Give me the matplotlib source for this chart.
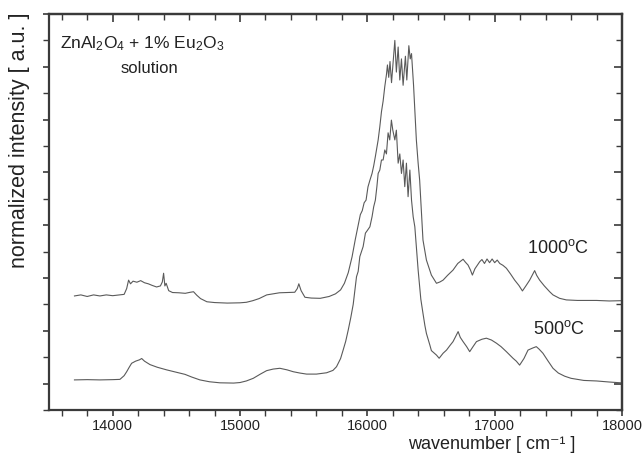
import matplotlib
matplotlib.use("Agg")
import matplotlib.pyplot as plt
from matplotlib.ticker import MultipleLocator, NullFormatter

plt.rcParams['font.family'] = ['Liberation Sans', 'DejaVu Sans']
plt.rcParams['mathtext.fontset'] = 'custom'
plt.rcParams['mathtext.rm'] = 'Liberation Sans'
plt.rcParams['mathtext.it'] = 'Liberation Sans:italic'

# ---- data ----
w_1000 = [13700, 13750, 13800, 13850, 13900, 13950, 14000, 14050, 14090, 14110,
          14125, 14140, 14160, 14190, 14220, 14250, 14280, 14310, 14345, 14375,
          14390, 14400, 14410, 14420, 14440, 14470, 14520, 14570, 14610, 14635,
          14660, 14690, 14740, 14800, 14900, 15000, 15050, 15100, 15150, 15210,
          15260, 15310, 15380, 15430, 15450, 15462, 15480, 15510, 15560, 15630,
          15700, 15750, 15790, 15820, 15850, 15880, 15905, 15930, 15945, 15960,
          15975, 15990, 16005, 16020, 16037, 16050, 16063, 16075, 16085, 16098,
          16111, 16124, 16137, 16150, 16158, 16168, 16178, 16190, 16216, 16228,
          16242, 16255, 16268, 16281, 16299, 16310, 16326, 16337, 16347, 16363,
          16385, 16399, 16411, 16437, 16464, 16503, 16543, 16570, 16595, 16630,
          16673, 16710, 16752, 16770, 16791, 16810, 16825, 16845, 16883, 16900,
          16920, 16940, 16960, 16980, 17000, 17020, 17040, 17065, 17092, 17125,
          17157, 17190, 17218, 17245, 17275, 17300, 17314, 17330, 17353, 17390,
          17432, 17458, 17510, 17563, 17650, 17800, 17900, 17990]
i_1000 = [3.32, 3.36, 3.30, 3.36, 3.32, 3.36, 3.33, 3.36, 3.38, 3.60,
          3.92, 3.78, 3.88, 3.84, 3.90, 3.82, 3.78, 3.72, 3.66, 3.70,
          3.85, 4.18, 3.70, 3.80, 3.52, 3.45, 3.44, 3.42, 3.46, 3.48,
          3.35, 3.22, 3.10, 3.07, 3.05, 3.06, 3.08, 3.14, 3.22, 3.36,
          3.40, 3.44, 3.45, 3.46, 3.60, 3.78, 3.52, 3.27, 3.24, 3.23,
          3.30, 3.40, 3.55, 3.80, 4.20, 4.80, 5.45, 6.05, 6.40, 6.55,
          6.85, 6.95, 7.45, 7.70, 7.96, 8.25, 8.60, 8.95, 9.23, 9.73,
          10.30, 10.70, 11.25, 11.70, 12.07, 11.60, 12.20, 11.40, 13.00, 11.80,
          12.75, 11.50, 12.30, 11.30, 12.40, 11.50, 12.80, 12.30, 12.50, 11.30,
          9.23, 8.35, 7.70, 5.44, 4.68, 4.11, 3.80, 3.85, 3.92, 4.10,
          4.30, 4.55, 4.71, 4.60, 4.49, 4.30, 4.11, 4.35, 4.62, 4.70,
          4.55, 4.72, 4.58, 4.72, 4.58, 4.68, 4.55, 4.48, 4.37, 4.15,
          3.92, 3.72, 3.51, 3.70, 3.92, 4.15, 4.28, 4.10, 3.92, 3.70,
          3.48, 3.36, 3.23, 3.17, 3.15, 3.15, 3.13, 3.14]

w_500 = [13700, 13800, 13900, 14000, 14057, 14090, 14110, 14130, 14149, 14180,
         14210, 14228, 14250, 14293, 14350, 14424, 14500, 14568, 14620, 14685,
         14760, 14842, 14950, 15000, 15050, 15104, 15160, 15209, 15260, 15313,
         15370, 15418, 15470, 15523, 15600, 15680, 15730, 15758, 15790, 15810,
         15830, 15850, 15870, 15889, 15915, 15928, 15941, 15967, 15985, 16000,
         16020, 16037, 16050, 16063, 16075, 16085, 16098, 16111, 16124, 16137,
         16150, 16163, 16176, 16189, 16200, 16216, 16228, 16242, 16255, 16268,
         16281, 16294, 16307, 16320, 16334, 16347, 16360, 16373, 16399, 16420,
         16437, 16452, 16464, 16491, 16503, 16543, 16564, 16595, 16622, 16650,
         16673, 16690, 16713, 16730, 16752, 16780, 16804, 16830, 16857, 16900,
         16935, 16975, 17014, 17050, 17092, 17144, 17170, 17196, 17230, 17262,
         17300, 17327, 17350, 17379, 17420, 17458, 17500, 17550, 17600, 17700,
         17800, 17900, 17990]
i_500 = [0.14, 0.15, 0.14, 0.15, 0.16, 0.30, 0.45, 0.62, 0.77, 0.85,
         0.90, 0.95, 0.85, 0.72, 0.62, 0.52, 0.43, 0.35, 0.25, 0.14,
         0.07, 0.03, 0.02, 0.04, 0.10, 0.20, 0.36, 0.49, 0.55, 0.58,
         0.52, 0.45, 0.40, 0.36, 0.36, 0.41, 0.50, 0.64, 0.95, 1.27,
         1.60, 2.03, 2.50, 3.00, 4.05, 4.25, 4.81, 5.19, 5.70, 5.80,
         5.94, 6.32, 6.70, 6.95, 7.46, 7.96, 8.09, 8.47, 8.47, 8.85,
         8.70, 9.50, 9.23, 9.98, 9.60, 9.23, 9.60, 8.35, 8.70, 7.96,
         8.47, 7.46, 8.35, 7.08, 8.09, 6.95, 6.32, 5.94, 4.30, 3.20,
         2.66, 2.20, 1.90, 1.46, 1.25, 1.08, 0.96, 1.15, 1.27, 1.45,
         1.59, 1.75, 1.97, 1.75, 1.59, 1.40, 1.21, 1.40, 1.59, 1.68,
         1.72, 1.65, 1.53, 1.40, 1.21, 0.96, 0.85, 0.70, 0.95, 1.27,
         1.35, 1.40, 1.30, 1.15, 0.85, 0.58, 0.40, 0.28, 0.20, 0.12,
         0.10, 0.06, 0.03]

x_major_ticks = [14000, 15000, 16000, 17000, 18000]
x_tick_labels = ["14000", "15000", "16000", "17000", "18000"]

line_col = "#5a5a5a"
axis_col = "#3a3a3a"
txt_col = "#222222"

fig = plt.figure(figsize=(6.43, 4.54), dpi=100)
ax = fig.add_axes([49/643, 44/454, 573/643, 396/454])

ax.plot(w_1000, i_1000, color=line_col, lw=0.8)
ax.plot(w_500, i_500, color=line_col, lw=0.8)

ax.set_xlim(13500, 18000)
ax.set_ylim(-1, 14)

for s in ax.spines.values():
    s.set_linewidth(1.6)
    s.set_color(axis_col)

ax.set_xticks(x_major_ticks)
ax.set_xticklabels(x_tick_labels)
ax.xaxis.set_minor_locator(MultipleLocator(200))
ax.yaxis.set_major_locator(MultipleLocator(2))
ax.yaxis.set_minor_locator(MultipleLocator(1))
ax.yaxis.set_major_formatter(NullFormatter())
ax.tick_params(axis='both', which='both', direction='out', color=axis_col,
               top=False, right=False)
ax.tick_params(axis='both', which='major', length=4.5, width=1.2, labelsize=10.5,
               labelcolor=txt_col, pad=2)
ax.tick_params(axis='both', which='minor', length=4, width=1.0)

# top axis ticks (inward)
axt = ax.secondary_xaxis('top')
axt.set_xticks(x_major_ticks)
axt.xaxis.set_minor_locator(MultipleLocator(200))
axt.tick_params(axis='x', which='both', direction='in', color=axis_col, labeltop=False)
axt.tick_params(axis='x', which='major', length=6, width=1.2)
axt.tick_params(axis='x', which='minor', length=4, width=1.0)
axt.spines['top'].set_linewidth(1.6)
axt.spines['top'].set_color(axis_col)

# right axis ticks (inward)
axr = ax.secondary_yaxis('right')
axr.yaxis.set_major_locator(MultipleLocator(2))
axr.yaxis.set_minor_locator(MultipleLocator(1))
axr.yaxis.set_major_formatter(NullFormatter())
axr.tick_params(axis='y', which='both', direction='in', color=axis_col, labelright=False)
axr.tick_params(axis='y', which='major', length=6, width=1.2)
axr.tick_params(axis='y', which='minor', length=4, width=1.0)
axr.spines['right'].set_linewidth(1.6)
axr.spines['right'].set_color(axis_col)

fig.text(20/643, 1 - 140/454, "normalized intensity [ a.u. ]", rotation=90,
         ha='center', va='center', fontsize=15.5, color=txt_col)
fig.text(492/643, 1/454, "wavenumber [ cm\u207b\u00b9 ]",
         ha='center', va='bottom', fontsize=13, color=txt_col,
         family=['Liberation Sans', 'DejaVu Sans'])

ax.text(0.02, 0.925, "ZnAl$_2$O$_4$ + 1% Eu$_2$O$_3$", transform=ax.transAxes,
        ha='left', va='center', fontsize=12.5, color=txt_col)
ax.text(0.175, 0.862, "solution", transform=ax.transAxes,
        ha='center', va='center', fontsize=12, color=txt_col)
ax.text(17495, 5.14, "1000$^{\\rm o}$C", ha='center', va='center', fontsize=13, color=txt_col)
ax.text(17503, 2.07, "500$^{\\rm o}$C", ha='center', va='center', fontsize=13, color=txt_col)

fig.savefig("out.png", dpi=100)
